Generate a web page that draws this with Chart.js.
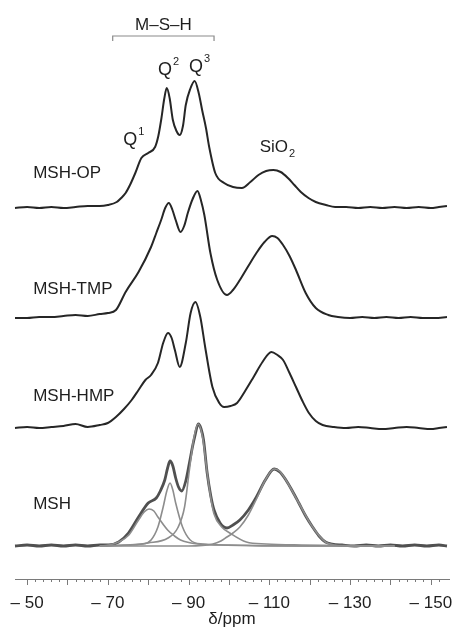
<!DOCTYPE html>
<html>
<head>
<meta charset="utf-8">
<script src="https://cdn.jsdelivr.net/npm/chart.js@4"></script>
<style>
  html, body { margin: 0; padding: 0; background: #fff; }
  #wrap { width: 463px; height: 634px; }
</style>
</head>
<body>
<div id="wrap"><canvas id="nmr" width="463" height="634"></canvas></div>
<script>
// 29Si NMR spectra, chemical shift (ppm) and intensity above each baseline
const opPpm = [-47,-50,-53,-56,-59,-62,-65,-68,-70,-72.2,-73.3,-74.4,-75.6,-76.8,-78.3,-80,-81.7,-82.5,-83.2,-84,-84.6,-85.3,-86.1,-87,-87.8,-88.6,-89.3,-90.4,-91.5,-92.5,-93.4,-94.3,-95.1,-96.6,-98.8,-101,-103.2,-105.3,-107.3,-109.2,-111,-112.8,-114.6,-116.2,-117.8,-119.7,-121.5,-124,-126.3,-129,-132,-135,-138,-141,-144,-147,-150,-152,-154];
const opInt = [0,1,0,1,0,1,2,2,3,6,10,15,24,35,50,55,61,72,88,110,120,110,88,77,73,82,103,119,127,115,97,80,61,35,25,21,20,26,33,37,38,36,30,23,16,10,6,3,1,1,0,1,0,1,0,1,0,1,2];

const tmpPpm = [-47,-50,-53,-56,-59,-62,-65,-68,-70,-72,-74.4,-77.6,-80.7,-82,-83.2,-84.2,-85.1,-86,-86.8,-88,-88.9,-89.8,-91,-92.2,-93.1,-93.9,-95.4,-97.1,-99.5,-101,-102.7,-104.8,-106.8,-108.8,-110.7,-112,-113.4,-115,-116.6,-119,-121.5,-124.6,-127,-130,-133,-136,-139,-142,-145,-148,-151,-154];
const tmpInt = [0,0,1,1,2,3,2,4,5,8,26,46,71,85,98,110,115,108,98,86,92,105,119,127,117,103,65,38,23,28,38,52,65,76,82,80,73,62,48,25,10,3,1,0,1,0,1,0,1,0,0,1];

const hmpPpm = [-47,-50,-53,-56,-59,-62,-65,-68,-70,-72,-74,-75.9,-77.6,-79.3,-80.7,-82.4,-83.7,-84.9,-85.8,-86.6,-87.8,-89.3,-90.5,-91.7,-92.9,-94.1,-95.9,-97.6,-98.8,-100.4,-102,-104,-106.1,-108.3,-110.5,-112,-113.4,-115,-116.6,-118.2,-119.8,-121.5,-123.2,-126,-129,-132,-135,-138,-141,-144,-147,-150,-152,-154];
const hmpInt = [0,1,0,1,2,4,1,3,5,11,19,28,38,48,53,65,85,95,90,78,61,85,115,126,111,81,41,25,21,22,25,37,51,66,76,73,68,55,41,27,15,7,3,1,0,1,0,-1,0,1,0,-1,0,1];

const mshPpm = [-47,-50,-53,-56,-59,-62,-65,-68,-70.2,-72.7,-75.1,-77.6,-80,-82,-83,-84.1,-84.8,-85.4,-86.1,-86.8,-87.5,-88.3,-89.3,-90.2,-91,-91.5,-92.4,-93.1,-93.7,-94.6,-95.5,-96.3,-97.8,-99.5,-101,-102.7,-104.8,-106.8,-109,-111.2,-112.6,-114.1,-115.7,-117.3,-119,-120.7,-122.3,-123.9,-125.6,-128,-131,-134,-137,-140,-143,-146,-149,-152,-154];
const mshInt = [0,1,0,1,0,1,0,1,1,4,13,29,43,48,55,66,78,85,80,68,59,55,65,83,100,109,122,117,106,73,50,36,23,18,21,26,36,49,66,77,74,66,55,43,30,19,10,4,2,1,0,1,0,1,0,1,0,1,0];

// deconvolution of MSH: Q1, Q2, Q3 and SiO2 components
const q1Ppm = [-68,-70.2,-72.7,-75.2,-77.6,-79,-80.2,-81.4,-82.4,-84.8,-86.5,-88,-92.2,-98,-110,-141];
const q1Int = [0,1,4,11,26,34,37,35,29,16,10,6,2,1,0,0];
const q2Ppm = [-68,-74,-78.8,-80.7,-82.4,-83.7,-84.6,-85.4,-86.1,-86.8,-88.5,-90.4,-93.4,-100,-120,-141];
const q2Int = [0,1,2,6,19,39,55,63,56,43,19,6,2,1,0,0];
const q3Ppm = [-68,-75,-80,-84.9,-87.3,-89,-90.2,-91.3,-92.4,-93.5,-94.6,-95.5,-96.3,-98.2,-100.2,-104.3,-109.2,-118,-141];
const q3Int = [0,1,3,8,18,39,76,108,122,108,73,48,32,19,13,4,2,1,0];
const sioPpm = [-68,-90,-96,-98,-99.5,-101,-102.7,-104.8,-106.8,-109,-111.2,-112.5,-114.1,-117.3,-120.7,-123.9,-126,-128,-141];
const sioInt = [0,0,2,5,9,13,19,31,47,66,77,75,66,43,19,4,1,0,0];

// vertical stacking of the four spectra (OP, TMP, HMP, MSH)
const sampleNames = ['MSH-OP', 'MSH-TMP', 'MSH-HMP', 'MSH'];
const offsets = [371, 261, 151, 33];

const xTicksShown = [-50, -70, -90, -110, -130, -150];

function pts(ppm, vals, off) {
  return ppm.map((p, i) => ({ x: p, y: vals[i] + off }));
}

const lineBase = {
  pointRadius: 0,
  fill: false,
  cubicInterpolationMode: 'monotone',
  clip: false
};

const datasets = [
  { ...lineBase, label: 'Q1 fit', data: pts(q1Ppm, q1Int, offsets[3]), borderColor: '#8d8d8d', borderWidth: 1.6 },
  { ...lineBase, label: 'Q2 fit', data: pts(q2Ppm, q2Int, offsets[3]), borderColor: '#8d8d8d', borderWidth: 1.6 },
  { ...lineBase, label: 'Q3 fit', data: pts(q3Ppm, q3Int, offsets[3]), borderColor: '#8d8d8d', borderWidth: 1.6 },
  { ...lineBase, label: 'SiO2 fit', data: pts(sioPpm, sioInt, offsets[3]), borderColor: '#8d8d8d', borderWidth: 1.6 },
  { ...lineBase, label: sampleNames[0], data: pts(opPpm, opInt, offsets[0]), borderColor: '#262626', borderWidth: 2 },
  { ...lineBase, label: sampleNames[1], data: pts(tmpPpm, tmpInt, offsets[1]), borderColor: '#262626', borderWidth: 2 },
  { ...lineBase, label: sampleNames[2], data: pts(hmpPpm, hmpInt, offsets[2]), borderColor: '#262626', borderWidth: 2 },
  { ...lineBase, label: sampleNames[3], data: pts(mshPpm, mshInt, offsets[3]), borderColor: '#505050', borderWidth: 2.8 }
];

const FONT = '"Liberation Sans", Arial, sans-serif';

// text annotations: positions given in ppm / intensity units
const labels = [
  { text: 'MSH-OP', x: -51.5, y: 406 },
  { text: 'MSH-TMP', x: -51.5, y: 290 },
  { text: 'MSH-HMP', x: -51.5, y: 183 },
  { text: 'MSH', x: -51.5, y: 75 }
];
const peakLabels = [
  { base: 'Q', sup: '1', x: -73.8, y: 439 },
  { base: 'Q', sup: '2', x: -82.4, y: 509 },
  { base: 'Q', sup: '3', x: -90.1, y: 512 }
];

const overlay = {
  id: 'overlay',
  afterDraw(chart) {
    const { ctx, scales: { x, y } } = chart;
    const axisY = chart.chartArea.bottom;
    ctx.save();

    // tick marks: short every 2 ppm, long every 10 ppm
    ctx.strokeStyle = '#7a7a7a';
    ctx.lineWidth = 1;
    x.ticks.forEach(t => {
      const v = Math.round(t.value);
      if (Math.abs(t.value - v) > 1e-6 || v % 2 !== 0) return;
      const px = Math.round(x.getPixelForValue(v)) + 0.5;
      const len = v % 10 === 0 ? 6 : 3;
      ctx.beginPath();
      ctx.moveTo(px, axisY);
      ctx.lineTo(px, axisY + len);
      ctx.stroke();
    });

    // M-S-H bracket
    const bx1 = x.getPixelForValue(-71.2), bx2 = x.getPixelForValue(-96.3);
    const by = y.getPixelForValue(543);
    ctx.strokeStyle = '#8a8a8a';
    ctx.lineWidth = 1.2;
    ctx.beginPath();
    ctx.moveTo(bx1, by + 5);
    ctx.lineTo(bx1, by);
    ctx.lineTo(bx2, by);
    ctx.lineTo(bx2, by + 5);
    ctx.stroke();

    ctx.fillStyle = '#1e1e1e';
    ctx.textBaseline = 'middle';
    ctx.font = '17px ' + FONT;
    ctx.textAlign = 'center';
    ctx.fillText('M\u2013S\u2013H', (bx1 + bx2) / 2, y.getPixelForValue(554));

    ctx.textAlign = 'left';
    labels.forEach(l => {
      ctx.font = '17px ' + FONT;
      ctx.fillText(l.text, x.getPixelForValue(l.x), y.getPixelForValue(l.y));
    });

    peakLabels.forEach(p => {
      const px = x.getPixelForValue(p.x), py = y.getPixelForValue(p.y);
      ctx.font = '18px ' + FONT;
      ctx.fillText(p.base, px, py);
      const w = ctx.measureText(p.base).width;
      ctx.font = '11px ' + FONT;
      ctx.fillText(p.sup, px + w + 1, py - 8);
    });

    // SiO2 label
    const sx = x.getPixelForValue(-107.6), sy = y.getPixelForValue(432);
    ctx.font = '17px ' + FONT;
    ctx.fillText('SiO', sx, sy);
    const sw = ctx.measureText('SiO').width;
    ctx.font = '11px ' + FONT;
    ctx.fillText('2', sx + sw + 1, sy + 7);

    ctx.restore();
  }
};

new Chart(document.getElementById('nmr'), {
  type: 'line',
  data: { datasets },
  options: {
    responsive: false,
    animation: false,
    layout: { padding: { left: 15, right: 8, top: 0, bottom: 0 } },
    plugins: { legend: { display: false }, tooltip: { enabled: false } },
    scales: {
      x: {
        type: 'linear',
        reverse: true,
        min: -154.5,
        max: -47,
        afterFit(scale) { scale.height = 55; },
        grid: { display: false, drawTicks: false },
        border: { display: true, color: '#7a7a7a', width: 1 },
        ticks: {
          stepSize: 2,
          autoSkip: false,
          maxRotation: 0,
          padding: 14,
          color: '#1e1e1e',
          font: { family: FONT, size: 17 },
          callback(v) {
            const r = Math.round(v);
            if (Math.abs(v - r) > 1e-6 || !xTicksShown.includes(r)) return '';
            return '\u2013 ' + Math.abs(r);
          }
        },
        title: {
          display: true,
          text: '\u03b4/ppm',
          color: '#1e1e1e',
          font: { family: FONT, size: 17 },
          padding: { top: 0, bottom: 4 }
        }
      },
      y: {
        display: false,
        min: 0,
        max: 579
      }
    }
  },
  plugins: [overlay]
});
</script>
</body>
</html>
